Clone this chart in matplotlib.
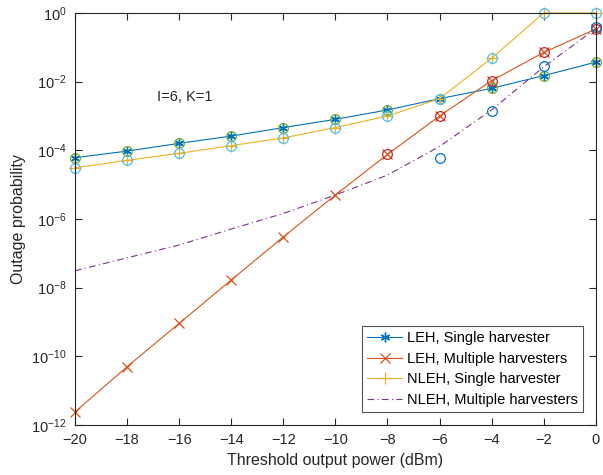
import numpy as np
import matplotlib
matplotlib.use("Agg")
import matplotlib.pyplot as plt
from matplotlib.ticker import FixedLocator, FuncFormatter, NullLocator

plt.rcParams['font.family'] = ['Liberation Sans', 'DejaVu Sans']
plt.rcParams['mathtext.default'] = 'regular'

# threshold output power (dBm)
p_th = [-20, -18, -16, -14, -12, -10, -8, -6, -4, -2, 0]

# analytical curves
leh_single = [6.1e-5, 9.5e-5, 1.6e-4, 2.6e-4, 4.6e-4, 8.0e-4, 1.5e-3, 3.2e-3, 6.4e-3, 1.5e-2, 3.7e-2]
leh_multi = [2.4e-12, 5.0e-11, 9.1e-10, 1.67e-8, 3.0e-7, 5.0e-6, 7.6e-5, 1.0e-3, 1.07e-2, 7.1e-2, 0.34]
nleh_single = [3.1e-5, 5.1e-5, 8.2e-5, 1.37e-4, 2.3e-4, 4.6e-4, 1.0e-3, 3.2e-3, 4.8e-2, 1.0, 1.0]
nleh_multi = [3.1e-8, 7.4e-8, 1.75e-7, 5.1e-7, 1.45e-6, 5.0e-6, 1.9e-5, 1.3e-4, 1.5e-3, 2.7e-2, 0.35]

# simulation points
sim_leh_multi_x = [-8, -6, -4, -2, 0]
sim_leh_multi = [7.6e-5, 1.0e-3, 1.07e-2, 7.1e-2, 0.34]
sim_nleh_multi_x = [-6, -4, -2, 0]
sim_nleh_multi = [5.8e-5, 1.4e-3, 2.9e-2, 0.40]

fig = plt.figure(figsize=(6.03, 4.75), dpi=100)
ax = fig.add_axes([0.1244, 0.1053, 0.8636, 0.8673])

blue = '#0072BD'
orange = '#D95319'
yellow = '#EDB120'
purple = '#7E2F8E'

asterisk = (6, 2, 0)
ax.plot(p_th, leh_single, color=blue, lw=0.8, marker=asterisk, ms=7, mew=1.0,
        label='LEH, Single harvester', clip_on=False)
ax.plot(p_th, leh_multi, color=orange, lw=0.8, marker='x', ms=7, mew=0.9,
        label='LEH, Multiple harvesters', clip_on=False)
ax.plot(p_th, nleh_single, color=yellow, lw=0.8, marker='+', ms=8, mew=0.9,
        label='NLEH, Single harvester', clip_on=False)
ax.plot(p_th, nleh_multi, color=purple, lw=0.8, ls='-.', dashes=(6, 3, 1, 3),
        label='NLEH, Multiple harvesters')

ax.plot(p_th, leh_single, ls='none', marker='o', ms=7, mfc='none', mec='#77AC30', mew=0.9, clip_on=False)
ax.plot(p_th, nleh_single, ls='none', marker='o', ms=7, mfc='none', mec='#4DBEEE', mew=0.9, clip_on=False)
ax.plot(sim_leh_multi_x, sim_leh_multi, ls='none', marker='o', ms=7, mfc='none', mec='#C0282D', mew=0.9, clip_on=False)
ax.plot(sim_nleh_multi_x, sim_nleh_multi, ls='none', marker='o', ms=7, mfc='none', mec=blue, mew=0.9, clip_on=False)

ax.set_yscale('log')
ax.set_xlim(-20, 0)
ax.set_ylim(1e-12, 1)
ax.xaxis.set_major_locator(FixedLocator(p_th))
ax.yaxis.set_major_locator(FixedLocator([10.0 ** k for k in range(-12, 1, 2)]))
ax.yaxis.set_minor_locator(NullLocator())
ax.yaxis.set_major_formatter(FuncFormatter(lambda v, pos: r'10$^{%d}$' % round(np.log10(v))))

ax.tick_params(direction='in', top=True, right=True, labelsize=10.5, colors='#262626',
               length=5, width=0.8, pad=6)
for s in ax.spines.values():
    s.set_color('#262626')
    s.set_linewidth(0.8)

ax.set_xlabel('Threshold output power (dBm)', fontsize=11.5, color='#262626', labelpad=4)
ax.set_ylabel('Outage probability', fontsize=11.5, color='#262626', labelpad=4)

ax.text(-16.85, 10 ** -2.45, 'I=6, K=1', fontsize=10.5, color='#262626', va='center')

leg = ax.legend(loc='lower right', fontsize=10.5, frameon=True, fancybox=False,
                edgecolor='#262626', borderpad=0.35, labelspacing=0.45, handlelength=2.4,
                handletextpad=0.3, borderaxespad=0.9)
leg.get_frame().set_linewidth(0.8)
leg.set_zorder(5)

fig.savefig('out.png', dpi=100)
